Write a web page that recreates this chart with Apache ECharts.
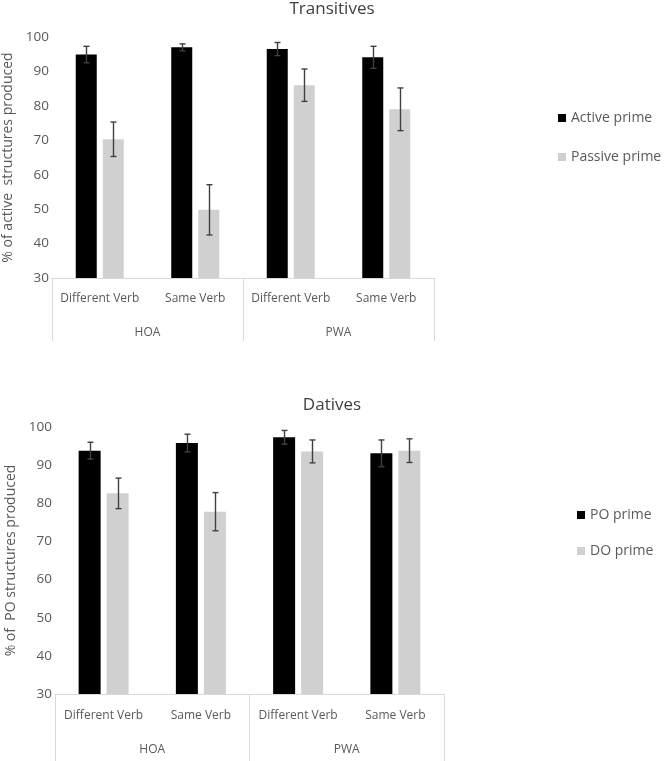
<!DOCTYPE html>
<html>
<head>
<meta charset="utf-8">
<script src="https://cdn.jsdelivr.net/npm/echarts@6/dist/echarts.min.js"></script>
<style>
html,body{margin:0;padding:0;background:#fff;}
#c{width:664px;height:761px;}
</style>
</head>
<body>
<div id="c"></div>
<script>
// ---- data ----
const subCategories = ['Different Verb', 'Same Verb', 'Different Verb', 'Same Verb'];
const groups = ['HOA', 'PWA'];
const yTicks = [30, 40, 50, 60, 70, 80, 90, 100];

// Transitives
const activePrime = [94.9, 97.0, 96.5, 94.1];
const activeErr = [2.4, 1.0, 1.9, 3.2];
const passivePrime = [70.3, 49.8, 86.0, 79.0];
const passiveErr = [5.0, 7.3, 4.7, 6.2];

// Datives
const poPrime = [93.8, 95.8, 97.3, 93.1];
const poErr = [2.2, 2.3, 1.8, 3.5];
const doPrime = [82.6, 77.8, 93.6, 93.8];
const doErr = [4.0, 5.0, 3.0, 3.1];

// ---- styles ----
const FONT = 'Open Sans';
const TXT = '#595959';
const LINE = '#d9d9d9';
const BLACK = '#000000';
const GRAY = '#d0d0d0';

function errData(vals, errs) {
  return vals.map((v, i) => [i, v - errs[i], v + errs[i]]);
}
function errRender(sign, barW, gap) {
  const off = sign * (barW + gap) / 2;
  return function (params, api) {
    const x = api.value(0);
    const pLo = api.coord([x, api.value(1)]);
    const pHi = api.coord([x, api.value(2)]);
    const cx = Math.round(pLo[0] + off) + 0.5;
    const cap = 3;
    const st = { stroke: '#404040', lineWidth: 1.4 };
    return {
      type: 'group',
      children: [
        { type: 'line', shape: { x1: cx, y1: pHi[1], x2: cx, y2: pLo[1] }, style: st },
        { type: 'line', shape: { x1: cx - cap, y1: pHi[1], x2: cx + cap, y2: pHi[1] }, style: st },
        { type: 'line', shape: { x1: cx - cap, y1: pLo[1], x2: cx + cap, y2: pLo[1] }, style: st }
      ]
    };
  };
}

function xAxes(gridIndex, subMargin, groupMargin, tickLen) {
  return [
    {
      type: 'category', gridIndex: gridIndex, data: subCategories,
      axisLine: { lineStyle: { color: LINE, width: 1 } },
      axisTick: { show: false },
      axisLabel: { color: TXT, fontFamily: FONT, fontSize: 12, margin: subMargin, interval: 0 }
    },
    {
      type: 'category', gridIndex: gridIndex, data: groups, position: 'bottom',
      axisLine: { show: false },
      axisTick: { show: true, length: tickLen, lineStyle: { color: LINE, width: 1 } },
      axisLabel: { color: TXT, fontFamily: FONT, fontSize: 12, margin: groupMargin, interval: 0 }
    }
  ];
}
function yAxis(gridIndex, name) {
  return {
    type: 'value', gridIndex: gridIndex, min: 30, max: 100, interval: 10,
    splitLine: { show: false }, axisLine: { show: false }, axisTick: { show: false },
    axisLabel: { color: TXT, fontFamily: FONT, fontSize: 13.5, margin: 3,
      formatter: v => (yTicks.indexOf(v) >= 0 ? String(v) : '') },
    name: name, nameLocation: 'middle', nameGap: 37, nameRotate: 90,
    nameTextStyle: { color: TXT, fontFamily: FONT, fontSize: 14 }
  };
}

const BW1 = 21, GAP1 = 6, BW2 = 22, GAP2 = 6;

const option = {
  animation: false,
  backgroundColor: '#ffffff',
  title: [
    { text: 'Transitives', left: 'center', top: 1, padding: 0,
      textStyle: { color: '#404040', fontFamily: FONT, fontSize: 17, fontWeight: 'normal' } },
    { text: 'Datives', left: 'center', top: 397, padding: 0,
      textStyle: { color: '#404040', fontFamily: FONT, fontSize: 17, fontWeight: 'normal' } }
  ],
  legend: [
    { data: ['Active prime', 'Passive prime'], orient: 'vertical', left: 558, top: 111,
      itemWidth: 8, itemHeight: 8, itemGap: 25, icon: 'rect', padding: 0,
      textStyle: { color: TXT, fontFamily: FONT, fontSize: 14 } },
    { data: ['PO prime', 'DO prime'], orient: 'vertical', left: 577, top: 508,
      itemWidth: 8, itemHeight: 8, itemGap: 22, icon: 'rect', padding: 0,
      textStyle: { color: TXT, fontFamily: FONT, fontSize: 14 } }
  ],
  grid: [
    { left: 52, top: 37, width: 382, height: 241, outerBoundsMode: 'none', containLabel: false },
    { left: 55, top: 427, width: 389, height: 267, outerBoundsMode: 'none', containLabel: false }
  ],
  xAxis: [].concat(xAxes(0, 15, 49, 63), xAxes(1, 16, 50, 68)),
  yAxis: [yAxis(0, '% of active  structures produced'), yAxis(1, '% of  PO structures produced')],
  series: [
    { name: 'Active prime', type: 'bar', xAxisIndex: 0, yAxisIndex: 0, data: activePrime,
      barWidth: BW1, barGap: (GAP1 / BW1 * 100) + '%', itemStyle: { color: BLACK } },
    { name: 'Passive prime', type: 'bar', xAxisIndex: 0, yAxisIndex: 0, data: passivePrime,
      barWidth: BW1, barGap: (GAP1 / BW1 * 100) + '%', itemStyle: { color: GRAY } },
    { name: 'errA', type: 'custom', xAxisIndex: 0, yAxisIndex: 0, data: errData(activePrime, activeErr),
      renderItem: errRender(-1, BW1, GAP1), z: 5 },
    { name: 'errP', type: 'custom', xAxisIndex: 0, yAxisIndex: 0, data: errData(passivePrime, passiveErr),
      renderItem: errRender(1, BW1, GAP1), z: 5 },

    { name: 'PO prime', type: 'bar', xAxisIndex: 2, yAxisIndex: 1, data: poPrime,
      barWidth: BW2, barGap: (GAP2 / BW2 * 100) + '%', itemStyle: { color: BLACK } },
    { name: 'DO prime', type: 'bar', xAxisIndex: 2, yAxisIndex: 1, data: doPrime,
      barWidth: BW2, barGap: (GAP2 / BW2 * 100) + '%', itemStyle: { color: GRAY } },
    { name: 'errPO', type: 'custom', xAxisIndex: 2, yAxisIndex: 1, data: errData(poPrime, poErr),
      renderItem: errRender(-1, BW2, GAP2), z: 5 },
    { name: 'errDO', type: 'custom', xAxisIndex: 2, yAxisIndex: 1, data: errData(doPrime, doErr),
      renderItem: errRender(1, BW2, GAP2), z: 5 }
  ]
};

const chart = echarts.init(document.getElementById('c'), null, { renderer: 'canvas' });
chart.setOption(option);
</script>
</body>
</html>
